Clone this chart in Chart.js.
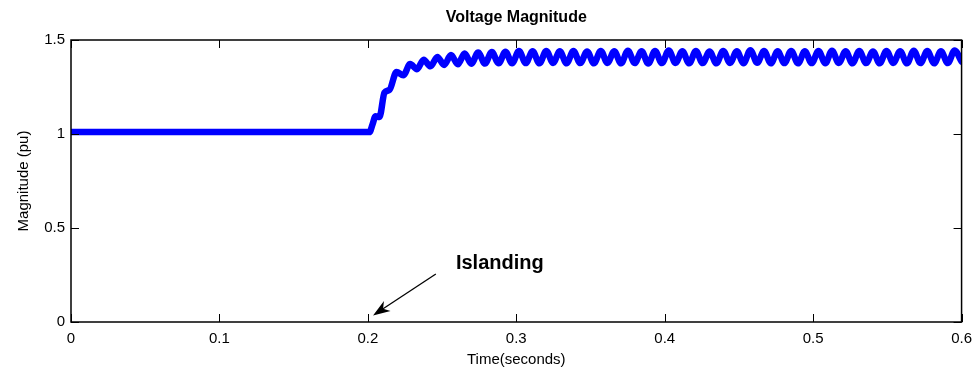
<!DOCTYPE html>
<html>
<head>
<meta charset="utf-8">
<script src="https://cdn.jsdelivr.net/npm/chart.js@4.4.1/dist/chart.umd.min.js"></script>
<style>
  body { margin: 0; background: #fff; }
  #wrap { width: 980px; height: 375px; }
</style>
</head>
<body>
<div id="wrap"><canvas id="myChart"></canvas></div>
<script>
// voltage magnitude after islanding, time in seconds, value in pu
var timeS = [
  0, 0.2011, 0.2031, 0.2052, 0.2078, 0.2112, 0.2146,
  0.2193, 0.2239, 0.2285, 0.2331, 0.2376, 0.2422, 0.2468, 0.2514,
  0.2560, 0.2606, 0.2652, 0.2697, 0.2743, 0.2789, 0.2835, 0.2881,
  0.2927, 0.2972, 0.3018, 0.3064, 0.3110, 0.3156, 0.3202, 0.3248,
  0.3293, 0.3339, 0.3385, 0.3431, 0.3477, 0.3523, 0.3569, 0.3614,
  0.3660, 0.3706, 0.3752, 0.3798, 0.3844, 0.3889, 0.3935, 0.3981,
  0.4027, 0.4073, 0.4119, 0.4165, 0.4210, 0.4256, 0.4302, 0.4348,
  0.4394, 0.4440, 0.4486, 0.4531, 0.4577, 0.4623, 0.4669, 0.4715,
  0.4761, 0.4806, 0.4852, 0.4898, 0.4944, 0.4990, 0.5036, 0.5082,
  0.5127, 0.5173, 0.5219, 0.5265, 0.5311, 0.5357, 0.5403, 0.5448,
  0.5494, 0.5540, 0.5586, 0.5632, 0.5678, 0.5723, 0.5769, 0.5815,
  0.5861, 0.5907, 0.5953, 0.6
]
var magPu = [
  1.01, 1.01, 1.05, 1.095, 1.09, 1.22, 1.235,
  1.33, 1.312, 1.372, 1.345, 1.395, 1.36, 1.41, 1.367,
  1.42, 1.371, 1.428, 1.374, 1.433, 1.375, 1.436, 1.376,
  1.438, 1.376, 1.441, 1.377, 1.440, 1.376, 1.442, 1.378,
  1.440, 1.376, 1.441, 1.377, 1.439, 1.376, 1.442, 1.378,
  1.440, 1.376, 1.443, 1.377, 1.440, 1.375, 1.441, 1.377,
  1.444, 1.378, 1.440, 1.376, 1.441, 1.377, 1.439, 1.376,
  1.442, 1.378, 1.440, 1.376, 1.446, 1.379, 1.441, 1.376,
  1.440, 1.377, 1.442, 1.376, 1.440, 1.377, 1.441, 1.376,
  1.443, 1.378, 1.440, 1.376, 1.441, 1.377, 1.439, 1.376,
  1.442, 1.378, 1.440, 1.376, 1.443, 1.377, 1.441, 1.376,
  1.440, 1.377, 1.444, 1.385
]
var xTicks = [0, 0.1, 0.2, 0.3, 0.4, 0.5, 0.6]
var xTickLabels = ['0', '0.1', '0.2', '0.3', '0.4', '0.5', '0.6']
var yTicks = [0, 0.5, 1, 1.5]
var yTickLabels = ['0', '0.5', '1', '1.5']

var fontName = "'Liberation Sans', Arial, sans-serif"
const ctx = document.getElementById('myChart')

var points = timeS.map(function (t, i) { return {x: t, y: magPu[i]} })

// box with inward ticks, title and the islanding arrow
const axesBox = {
  id: 'axesBox',
  afterDatasetsDraw(chart) {
    const c = chart.ctx
    const a = chart.chartArea
    const sx = chart.scales.x
    const sy = chart.scales.y
    c.save()
    c.strokeStyle = '#000'
    c.lineWidth = 1
    c.beginPath()
    for (var v of xTicks) {
      var px = Math.round(sx.getPixelForValue(v)) + 0.5
      c.moveTo(px, a.bottom); c.lineTo(px, a.bottom - 8)
      c.moveTo(px, a.top); c.lineTo(px, a.top + 8)
    }
    for (var w of yTicks) {
      var py = Math.round(sy.getPixelForValue(w)) + 0.5
      c.moveTo(a.left, py); c.lineTo(a.left + 8, py)
      c.moveTo(a.right, py); c.lineTo(a.right - 8, py)
    }
    c.stroke()
    c.lineWidth = 1.5
    c.strokeRect(a.left, a.top, a.right - a.left, a.bottom - a.top)

    // title
    c.fillStyle = '#000'
    c.font = 'bold 16px ' + fontName
    c.textAlign = 'center'
    c.textBaseline = 'middle'
    c.fillText('Voltage Magnitude', (a.left + a.right) / 2, 18)

    // annotation
    c.font = 'bold 20px ' + fontName
    c.fillText('Islanding', sx.getPixelForValue(0.2889), sy.getPixelForValue(0.313))
    var tx = sx.getPixelForValue(0.2035), ty = sy.getPixelForValue(0.035)
    var fx = sx.getPixelForValue(0.2458), fy = sy.getPixelForValue(0.255)
    var ang = Math.atan2(ty - fy, tx - fx)
    var cs = Math.cos(ang), sn = Math.sin(ang)
    c.lineWidth = 1.3
    c.beginPath()
    c.moveTo(fx, fy)
    c.lineTo(tx - 12 * cs, ty - 12 * sn)
    c.stroke()
    c.beginPath()
    c.moveTo(tx, ty)
    c.lineTo(tx - 17 * cs + 6 * sn, ty - 17 * sn - 6 * cs)
    c.lineTo(tx - 12 * cs, ty - 12 * sn)
    c.lineTo(tx - 17 * cs - 6 * sn, ty - 17 * sn + 6 * cs)
    c.closePath()
    c.fill()
    c.restore()
  }
}

var webchart = new Chart(ctx, {
  type: 'line',
  data: {
    datasets: [{
      label: 'Magnitude',
      data: points,
      borderColor: '#0000ff',
      borderWidth: 6.5,
      borderCapStyle: 'round',
      borderJoinStyle: 'round',
      cubicInterpolationMode: 'monotone',
      pointRadius: 0,
      fill: false
    }]
  },
  options: {
    animation: false,
    responsive: true,
    maintainAspectRatio: false,
    layout: { padding: { top: 40, right: 18, bottom: 0, left: 0 } },
    plugins: {
      legend: { display: false },
      tooltip: { enabled: false }
    },
    scales: {
      x: {
        type: 'linear',
        min: 0,
        max: 0.6,
        afterFit: function (axis) { axis.height = 53 },
        afterBuildTicks: function (axis) { axis.ticks = xTicks.map(function (v) { return {value: v} }) },
        grid: { display: false, drawTicks: false },
        border: { display: false },
        ticks: {
          padding: 8,
          color: '#000',
          font: { family: fontName, size: 15 },
          callback: function (val, i) { return xTickLabels[i] }
        },
        title: {
          display: true,
          text: 'Time(seconds)',
          color: '#000',
          font: { family: fontName, size: 15 },
          padding: { top: 0, bottom: 6 }
        }
      },
      y: {
        type: 'linear',
        min: 0,
        max: 1.5,
        afterFit: function (axis) { axis.width = 71 },
        afterBuildTicks: function (axis) { axis.ticks = yTicks.map(function (v) { return {value: v} }) },
        grid: { display: false, drawTicks: false },
        border: { display: false },
        ticks: {
          padding: 6,
          color: '#000',
          font: { family: fontName, size: 15 },
          callback: function (val, i) { return yTickLabels[i] }
        },
        title: {
          display: true,
          text: 'Magnitude (pu)',
          color: '#000',
          font: { family: fontName, size: 15 },
          padding: { top: 15, bottom: 0 }
        }
      }
    }
  },
  plugins: [axesBox]
})
</script>
</body>
</html>
